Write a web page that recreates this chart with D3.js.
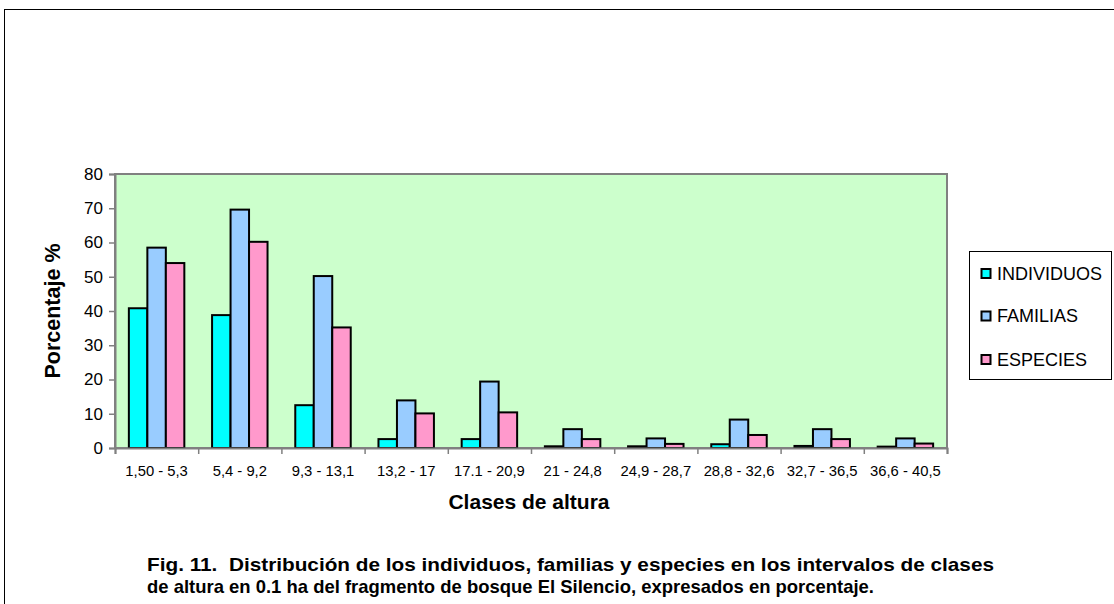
<!DOCTYPE html>
<html>
<head>
<meta charset="utf-8">
<script src="https://cdn.jsdelivr.net/npm/d3@7"></script>
<style>
  body { margin: 0; background: #fff; }
  svg { display: block; font-family: Arial, "Liberation Sans", sans-serif; }
</style>
</head>
<body>
<div id="chart"></div>
<script>
// data
var categories = ["1,50 - 5,3", "5,4 - 9,2", "9,3 - 13,1", "13,2 - 17", "17.1 - 20,9",
                  "21 - 24,8", "24,9 - 28,7", "28,8 - 32,6", "32,7 - 36,5", "36,6 - 40,5"];
var individuos = [40.8, 38.8, 12.5, 2.6, 2.6, 0.5, 0.5, 1.1, 0.6, 0.4];
var familias   = [58.5, 69.6, 50.2, 13.9, 19.4, 5.5, 2.8, 8.3, 5.5, 2.8];
var especies   = [54.0, 60.2, 35.2, 10.1, 10.4, 2.6, 1.2, 3.8, 2.6, 1.3];
var seriesNames = ["INDIVIDUOS", "FAMILIAS", "ESPECIES"];
var colors = ["#00FFFF", "#99CCFF", "#FF99CC"];
var yTicks = [0, 10, 20, 30, 40, 50, 60, 70, 80];

var W = 1114, H = 604;
var plot = {left: 115, top: 174, right: 947, bottom: 448};

var svg = d3.select("#chart").append("svg")
    .attr("width", W).attr("height", H);

// outer frame
svg.append("rect")
    .attr("x", 4.5).attr("y", 9.5)
    .attr("width", W + 10).attr("height", H + 10)
    .attr("fill", "none").attr("stroke", "#000").attr("stroke-width", 1);

// plot background
svg.append("rect")
    .attr("x", plot.left).attr("y", plot.top)
    .attr("width", plot.right - plot.left).attr("height", plot.bottom - plot.top)
    .attr("fill", "#CCFFCC").attr("stroke", "#808080").attr("stroke-width", 2);

var x0 = d3.scaleBand()
    .domain(categories)
    .range([plot.left, plot.right])
    .paddingInner(1 / 3)
    .paddingOuter(1 / 6);

var x1 = d3.scaleBand()
    .domain(seriesNames)
    .range([0, x0.bandwidth()]);

var y = d3.scaleLinear().domain([0, 80]).range([plot.bottom, plot.top]);

var rows = categories.map(function(c, i) {
  return {cat: c, vals: [individuos[i], familias[i], especies[i]]};
});

var groups = svg.selectAll("g.grp")
    .data(rows)
    .enter().append("g")
    .attr("class", "grp")
    .attr("transform", function(d) { return "translate(" + x0(d.cat) + ",0)"; });

groups.selectAll("rect")
    .data(function(d) { return d.vals.map(function(v, k) { return {s: seriesNames[k], v: v, k: k}; }); })
    .enter().append("rect")
    .attr("x", function(d) { return x1(d.s); })
    .attr("y", function(d) { return y(d.v); })
    .attr("width", x1.bandwidth())
    .attr("height", function(d) { return plot.bottom - y(d.v); })
    .attr("fill", function(d) { return colors[d.k]; })
    .attr("stroke", "#000")
    .attr("stroke-width", 2);

// y axis
var yAxis = svg.append("g")
    .attr("transform", "translate(" + plot.left + ",0)")
    .call(d3.axisLeft(y).tickValues(yTicks).tickSize(6).tickPadding(6));
yAxis.selectAll("text").attr("font-size", 17).attr("fill", "#000")
    .style("font-family", "Arial, 'Liberation Sans', sans-serif");
yAxis.selectAll("line").attr("stroke", "#808080").attr("stroke-width", 1.5);
yAxis.select(".domain").attr("stroke", "#808080").attr("stroke-width", 2);

// x axis: boundary ticks
var xb = d3.scaleLinear().domain([0, categories.length]).range([plot.left, plot.right]);
var xTickAxis = svg.append("g")
    .attr("transform", "translate(0," + plot.bottom + ")")
    .call(d3.axisBottom(xb).ticks(categories.length).tickFormat("").tickSize(6));
xTickAxis.selectAll("line").attr("stroke", "#808080").attr("stroke-width", 1.5);
xTickAxis.select(".domain").attr("stroke", "#808080").attr("stroke-width", 2);

// x axis labels
var xLab = svg.append("g")
    .attr("transform", "translate(0," + plot.bottom + ")")
    .call(d3.axisBottom(x0).tickSize(0).tickPadding(17));
xLab.select(".domain").remove();
xLab.selectAll("text").attr("font-size", 14.8).attr("fill", "#000")
    .style("font-family", "Arial, 'Liberation Sans', sans-serif");

// axis titles
svg.append("text")
    .attr("x", (plot.left + plot.right) / 2 - 2).attr("y", 509)
    .attr("text-anchor", "middle")
    .attr("font-size", 21).attr("font-weight", "bold")
    .text("Clases de altura");

svg.append("text")
    .attr("transform", "translate(52," + ((plot.top + plot.bottom) / 2) + ") rotate(-90)")
    .attr("text-anchor", "middle")
    .attr("dy", "0.35em")
    .attr("font-size", 21.5).attr("font-weight", "bold")
    .text("Porcentaje %");

// legend
var leg = svg.append("g").attr("transform", "translate(969.5,251.5)");
leg.append("rect")
    .attr("width", 142).attr("height", 128)
    .attr("fill", "#fff").attr("stroke", "#000").attr("stroke-width", 1);
var legY = [22, 64.5, 108];
seriesNames.forEach(function(name, k) {
  leg.append("rect")
      .attr("x", 12).attr("y", legY[k] - 4.5)
      .attr("width", 9).attr("height", 9)
      .attr("fill", colors[k]).attr("stroke", "#000").attr("stroke-width", 2);
  leg.append("text")
      .attr("x", 27.5).attr("y", legY[k])
      .attr("dy", "0.36em")
      .attr("font-size", 18)
      .text(name);
});

// caption (condensed bold, stretched to the original line widths)
var caption = [
  {t: "Fig. 11.  Distribución de los individuos, familias y especies en los intervalos de clases", w: 847, y: 571},
  {t: "de altura en 0.1 ha del fragmento de bosque El Silencio, expresados en porcentaje.", w: 727, y: 593}
];
svg.selectAll("text.cap")
    .data(caption)
    .enter().append("text")
    .attr("class", "cap")
    .attr("x", 147).attr("y", function(d) { return d.y; })
    .attr("font-size", 19).attr("font-weight", "bold")
    .style("white-space", "pre")
    .attr("textLength", function(d) { return d.w; })
    .attr("lengthAdjust", "spacingAndGlyphs")
    .text(function(d) { return d.t; });
</script>
</body>
</html>
